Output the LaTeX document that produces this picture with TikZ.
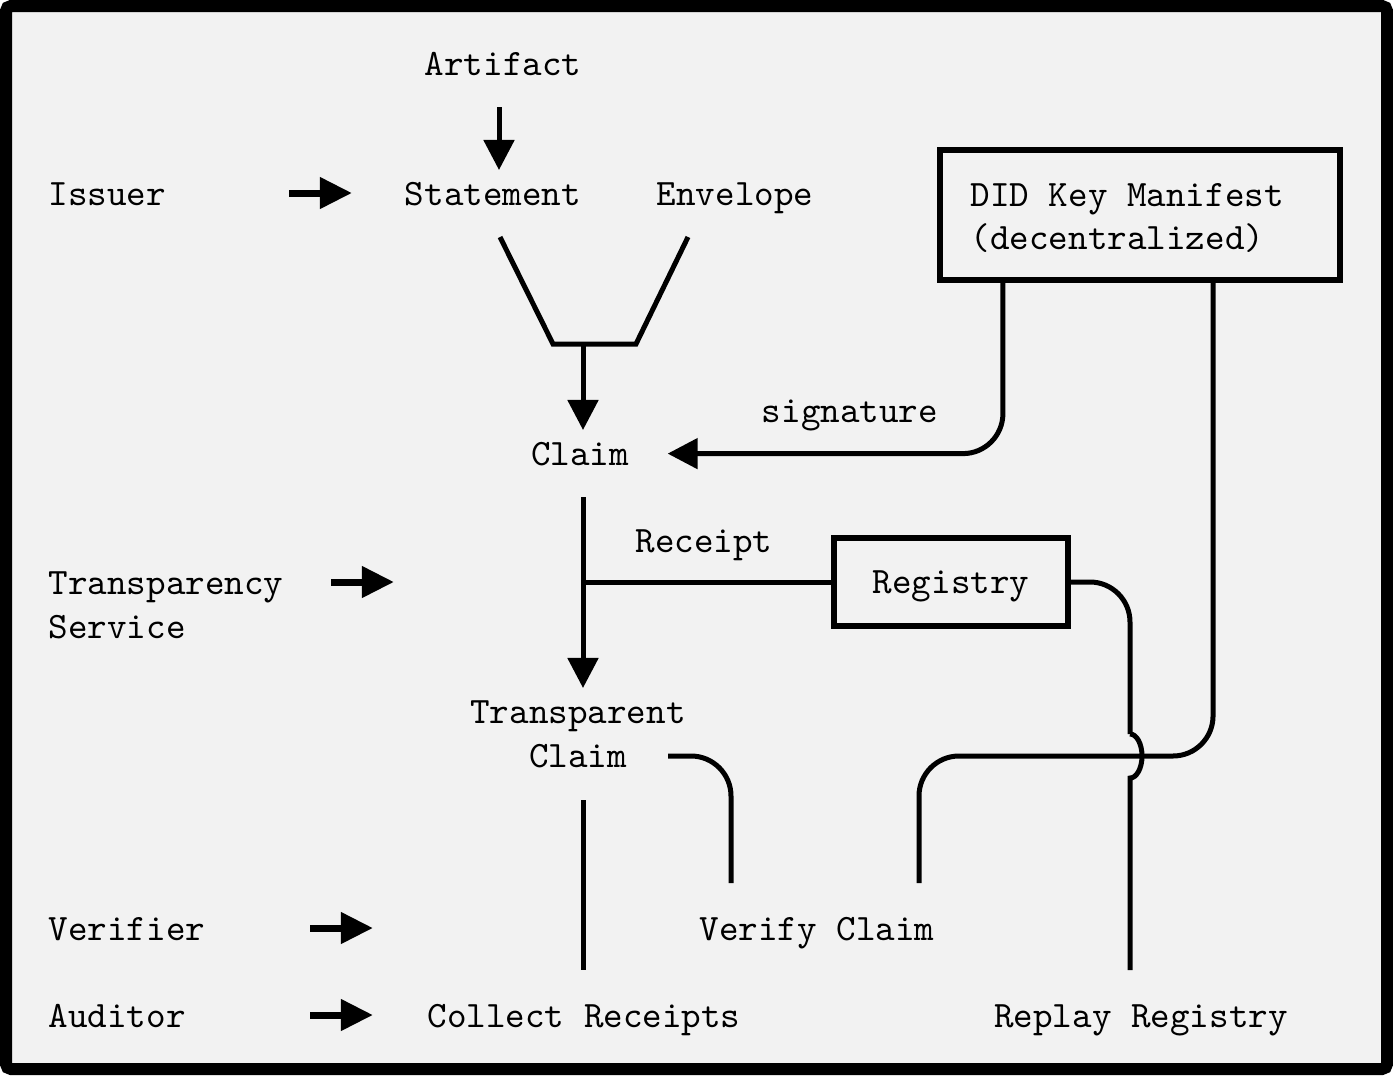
\documentclass[tikz,border=0pt]{standalone}
\usetikzlibrary{arrows.meta}
\definecolor{paper}{HTML}{F2F2F2}

\begin{document}
\begin{tikzpicture}[x=0.01cm,y=-0.01cm,
  lbl/.style={font=\ttfamily\fontsize{10.6}{12.5}\selectfont,inner sep=0pt,anchor=base},
  box/.style={draw,line width=0.06cm,inner sep=0pt,anchor=center},
  wire/.style={line width=0.05cm},
  arr/.style={wire,-{Triangle[length=0.3cm,width=0.3cm]}},
  role/.style={line width=0.07cm,-{Triangle[length=0.32cm,width=0.3cm]}}]

% FRAME
\path[use as bounding box] (0,0) rectangle (1393,1075);
\draw[line width=0.12cm,fill=paper,rounded corners=0.05cm] (6,6) rectangle (1387,1069);

% ROLES
% left column
\node[lbl,anchor=base west] (issuer) at (48,205) {Issuer};
\node[lbl,anchor=west,align=left] (service) at (48,605) {Transparency\\Service};
\node[lbl,anchor=base west] (verifier) at (48,940) {Verifier};
\node[lbl,anchor=base west] (auditor) at (48,1027) {Auditor};
% role arrows
\coordinate (issuer-a) at (289,193);   \coordinate (issuer-b) at (352,193);
\coordinate (service-a) at (331,582);  \coordinate (service-b) at (394,582);
\coordinate (verifier-a) at (310,928); \coordinate (verifier-b) at (373,928);
\coordinate (auditor-a) at (310,1015); \coordinate (auditor-b) at (373,1015);
\foreach \r in {issuer,service,verifier,auditor}
  \draw[role] (\r-a) -- (\r-b);

% ITEMS
\node[lbl] (artifact) at (503,75) {Artifact};
\node[lbl] (statement) at (493,205) {Statement};
\node[lbl] (envelope) at (735,205) {Envelope};
\node[box,minimum width=4cm,minimum height=1.3cm] (manifest) at (1140,215) {};
\node[lbl,anchor=west,align=left] (manifest-text) at ([xshift=0.33cm,yshift=-0.03cm]manifest.west)
  {DID Key Manifest\\(decentralized)};
\node[lbl] (claim) at (580,465) {Claim};
\node[lbl] (signature) at (850,422) {signature};
\node[lbl] (receipt) at (704,552) {Receipt};
\node[lbl,box,minimum width=2.33cm,minimum height=0.88cm,text depth=0pt] (registry) at (951,582) {Registry};
\node[lbl,anchor=center,align=center] (transparent) at (578,734) {Transparent\\Claim};
\node[lbl] (verify) at (817,940) {Verify Claim};
\node[lbl] (collect) at (584,1027) {Collect Receipts};
\node[lbl] (replay) at (1141,1027) {Replay Registry};

% CONNECTORS
% artifact into statement
\coordinate (artifact-out) at (499,107);
\coordinate (statement-in) at (499,170);
\draw[arr] (artifact-out) -- (statement-in);

% statement + envelope merge
\coordinate (statement-foot) at (500,237);
\coordinate (envelope-foot) at (688,237);
\coordinate (merge) at (583,344);
\coordinate (claim-in) at (583,430);
\draw[wire] (statement-foot) -- (553,344) -- (636,344) -- (envelope-foot);
\draw[arr] (merge) -- (claim-in);

% signature from the manifest
\draw[arr,rounded corners=0.4cm] ([xshift=-1.37cm]manifest.south) |- ([xshift=0.38cm]claim.east);

% claim down to transparent claim, receipt branch
\coordinate (claim-out) at (583,497);
\coordinate (branch) at (583,582);
\coordinate (transparent-in) at (583,688);
\draw[arr] (claim-out) -- (transparent-in);
\draw[wire] (branch) -- (registry.west);

% transparent claim out
\coordinate (transparent-out) at (668,756);
\coordinate (transparent-down) at (583,800);
\coordinate (verify-l) at (731,883);
\coordinate (verify-r) at (919,883);
\coordinate (collect-in) at (583,970);
\draw[wire,rounded corners=0.4cm] (transparent-out) -| (verify-l);
\draw[wire] (transparent-down) -- (collect-in);

% key lookup for verify
\coordinate (cross) at (919,756);
\draw[wire,rounded corners=0.4cm] ([xshift=0.73cm]manifest.south) |- (cross) -- (verify-r);

% registry replay, hopping over the key line
\coordinate (hop) at (1130,734);
\coordinate (replay-in) at (1130,970);
\draw[wire,rounded corners=0.4cm] (registry.east) -| (hop);
\draw[wire] (hop) arc[start angle=90,end angle=-90,x radius=0.12cm,y radius=0.22cm] -- (replay-in);

\end{tikzpicture}
\end{document}
